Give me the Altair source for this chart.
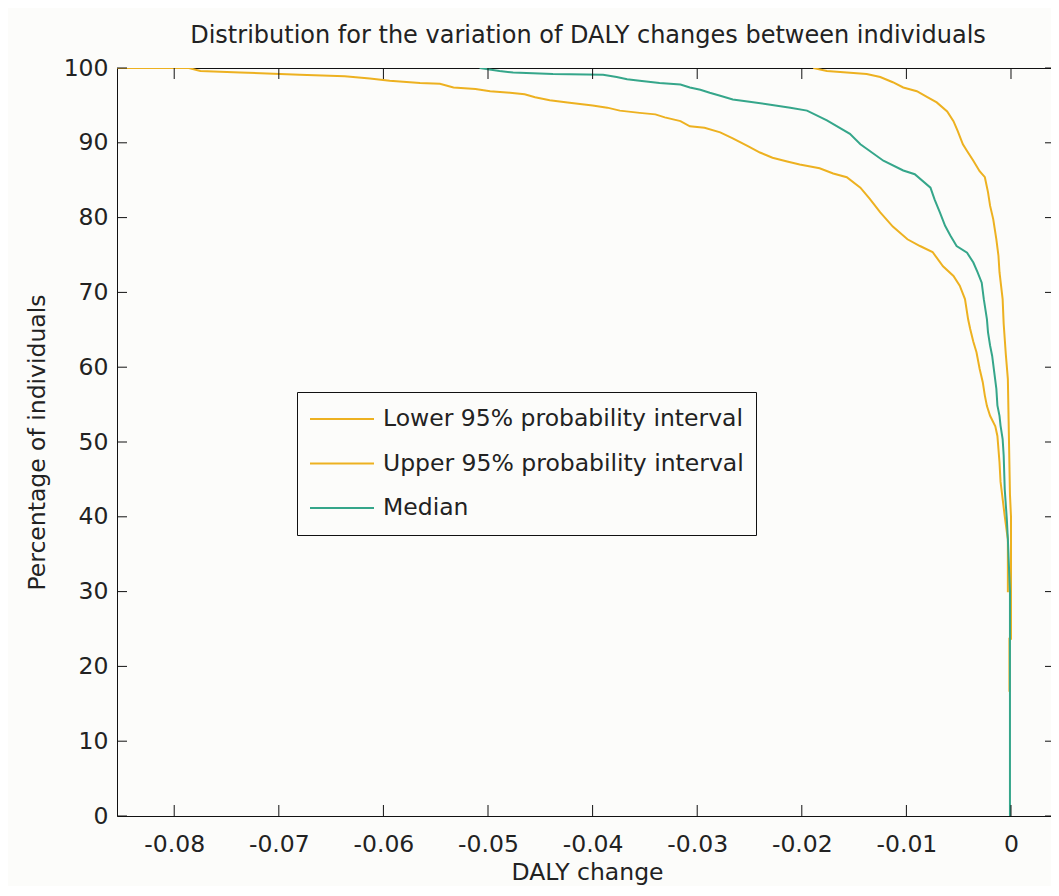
import altair as alt
import pandas as pd

# ---- data ----
lower_x = [-0.0855, -0.0786, -0.0775, -0.0737, -0.0680, -0.0637, -0.0613, -0.0594, -0.0565, -0.0546,
           -0.0533, -0.0512, -0.0498, -0.0479, -0.0465, -0.0455, -0.0441, -0.0424, -0.0412, -0.0400,
           -0.0386, -0.0374, -0.0355, -0.0340, -0.0331, -0.0316, -0.0307, -0.0293, -0.0278, -0.0266,
           -0.0259, -0.0252, -0.0240, -0.0228, -0.0214, -0.0202, -0.0183, -0.0170, -0.0157, -0.0144,
           -0.0135, -0.0125, -0.0113, -0.0099, -0.0087, -0.0075, -0.0065, -0.0055, -0.0049, -0.0044,
           -0.0041, -0.0039, -0.0036, -0.0033, -0.0030, -0.0027, -0.0025, -0.0023, -0.0020, -0.0015,
           -0.0013, -0.0011, -0.0010, -0.0008, -0.0006, -0.0004, -0.0003, -0.0003]
lower_y = [100, 100, 99.6, 99.4, 99.1, 98.9, 98.6, 98.3, 98.0, 97.9,
           97.4, 97.2, 96.9, 96.7, 96.5, 96.1, 95.7, 95.4, 95.2, 95.0,
           94.7, 94.3, 94.0, 93.8, 93.4, 92.9, 92.2, 92.0, 91.4, 90.6,
           90.1, 89.6, 88.7, 88.0, 87.5, 87.1, 86.6, 85.9, 85.4, 84.0,
           82.5, 80.7, 78.8, 77.1, 76.2, 75.4, 73.5, 72.2, 70.9, 69.1,
           66.4, 65.1, 63.4, 62.0, 59.8, 58.0, 56.2, 54.8, 53.5, 52.1,
           50.8, 47.3, 44.7, 42.4, 40.1, 38.0, 37.0, 29.9]

upper_x = [-0.0189, -0.0176, -0.0157, -0.0138, -0.0125, -0.0113, -0.0103, -0.0090, -0.0080, -0.0071,
           -0.0061, -0.0055, -0.0051, -0.0046, -0.0042, -0.0036, -0.0030, -0.0025, -0.0022, -0.0020,
           -0.0017, -0.0014, -0.0012, -0.0011, -0.0008, -0.0007, -0.0005, -0.0003, -0.0001, 0.0,
           0.0, -0.00015, -0.00015]
upper_y = [100, 99.6, 99.4, 99.2, 98.8, 98.1, 97.4, 96.9, 96.1, 95.4,
           94.2, 92.9, 91.6, 89.8, 88.9, 87.6, 86.2, 85.4, 83.4, 81.6,
           79.8, 77.1, 74.9, 72.7, 69.1, 65.8, 61.8, 58.4, 43.0, 40.0,
           23.7, 23.7, 16.6]

median_x = [-0.0508, -0.0489, -0.0476, -0.0438, -0.0390, -0.0377, -0.0367, -0.0355, -0.0336, -0.0316,
            -0.0307, -0.0297, -0.0288, -0.0278, -0.0266, -0.0250, -0.0230, -0.0211, -0.0195, -0.0176,
            -0.0154, -0.0144, -0.0138, -0.0122, -0.0103, -0.0092, -0.0077, -0.0073, -0.0068, -0.0063,
            -0.0058, -0.0052, -0.0042, -0.0036, -0.0032, -0.0028, -0.0026, -0.0023, -0.0022, -0.0020,
            -0.0018, -0.0016, -0.0014, -0.0013, -0.0011, -0.0010, -0.0008, -0.0007, -0.0006, -0.0004,
            -0.0003, -0.0001, -0.0001]
median_y = [100, 99.6, 99.4, 99.2, 99.1, 98.8, 98.5, 98.3, 98.0, 97.8,
            97.4, 97.1, 96.7, 96.3, 95.8, 95.5, 95.1, 94.7, 94.3, 93.0,
            91.2, 89.8, 89.2, 87.6, 86.3, 85.8, 84.0, 82.4, 80.7, 78.9,
            77.6, 76.2, 75.3, 74.0, 72.7, 71.3, 69.1, 66.4, 64.7, 62.9,
            61.5, 59.3, 57.1, 54.9, 53.5, 52.2, 50.4, 48.2, 43.7, 39.7,
            37.0, 30.0, 0.0]

series_names = ["Lower 95% probability interval", "Upper 95% probability interval", "Median"]
series_colors = ["#EDB120", "#EDB120", "#35A68A"]

x_ticks = [-0.08, -0.07, -0.06, -0.05, -0.04, -0.03, -0.02, -0.01, 0.0]
y_ticks = [0, 10, 20, 30, 40, 50, 60, 70, 80, 90, 100]
x_domain = [-0.08547, 0.004589]
y_domain = [0, 100]

title_text = "Distribution for the variation of DALY changes between individuals"
x_title = "DALY change"
y_title = "Percentage of individuals"

# ---- build tables ----
rows = []
for name, xs, ys in zip(series_names, [lower_x, upper_x, median_x], [lower_y, upper_y, median_y]):
    for i, (xv, yv) in enumerate(zip(xs, ys)):
        rows.append({"series": name, "x": xv, "y": yv, "i": i})
lines_df = pd.DataFrame(rows)
xt_df = pd.DataFrame({"x": x_ticks})
yt_df = pd.DataFrame({"y": y_ticks})

W, H = 942, 748
FONT = "DejaVu Sans"
TXT = "#222222"
BG = "#fcfcfa"

xscale = alt.Scale(domain=x_domain, nice=False, zero=False)
yscale = alt.Scale(domain=y_domain, nice=False, zero=False)

lines = alt.Chart(lines_df).mark_line(strokeWidth=2, clip=True).encode(
    x=alt.X("x:Q", scale=xscale,
            axis=alt.Axis(values=x_ticks, title=x_title, labelExpr="'' + datum.value",
                          titleX=470, titleY=63, titleBaseline="alphabetic", titleAlign="center",
                          labelPadding=16, labelFlush=False, labelOverlap=False)),
    y=alt.Y("y:Q", scale=yscale,
            axis=alt.Axis(values=y_ticks, title=y_title,
                          titleX=-73, titleY=H / 2, titleAngle=270, titleBaseline="alphabetic",
                          titleAlign="center", labelPadding=9, labelFlush=False, labelOverlap=False)),
    color=alt.Color("series:N",
                    scale=alt.Scale(domain=series_names, range=series_colors),
                    legend=alt.Legend(title=None, orient="none", legendX=180, legendY=324,
                                      direction="vertical", padding=12,
                                      strokeColor="#111", fillColor=BG,
                                      symbolType="stroke", symbolSize=4096, symbolStrokeWidth=2,
                                      clipHeight=30, rowPadding=14.5, labelOffset=8,
                                      labelFont=FONT, labelFontSize=23.5, labelColor=TXT,
                                      labelLimit=600)),
    order=alt.Order("i:Q"),
)

tick_color = "#111"
bottom_ticks = alt.Chart(xt_df).mark_rule(color=tick_color, strokeWidth=1).encode(
    x=alt.X("x:Q", scale=xscale), y=alt.value(H), y2=alt.value(H - 11))
top_ticks = alt.Chart(xt_df).mark_rule(color=tick_color, strokeWidth=1).encode(
    x=alt.X("x:Q", scale=xscale), y=alt.value(0), y2=alt.value(11))
left_ticks = alt.Chart(yt_df).mark_rule(color=tick_color, strokeWidth=1).encode(
    y=alt.Y("y:Q", scale=yscale), x=alt.value(0), x2=alt.value(10))
right_ticks = alt.Chart(yt_df).mark_rule(color=tick_color, strokeWidth=1).encode(
    y=alt.Y("y:Q", scale=yscale), x=alt.value(W - 14), x2=alt.value(W))

chart = alt.layer(lines, bottom_ticks, top_ticks, left_ticks, right_ticks).properties(
    width=W, height=H,
    title=alt.TitleParams(title_text, font=FONT, fontSize=24, fontWeight="normal", color=TXT,
                          anchor="middle", baseline="alphabetic", offset=25, dy=36),
    padding={"left": 109, "top": 60, "right": -8, "bottom": 70},
    autosize=alt.AutoSizeParams(type="none"),
    background=BG,
).configure_view(
    stroke="#111", strokeWidth=1, fill=BG
).configure_axis(
    domain=False, ticks=False, tickSize=0, grid=False,
    labelFont=FONT, labelFontSize=23.5, labelColor=TXT,
    titleFont=FONT, titleFontSize=23.5, titleColor=TXT, titleFontWeight="normal",
)

chart.save("out.html", embed_options={"renderer": "svg", "actions": False})
